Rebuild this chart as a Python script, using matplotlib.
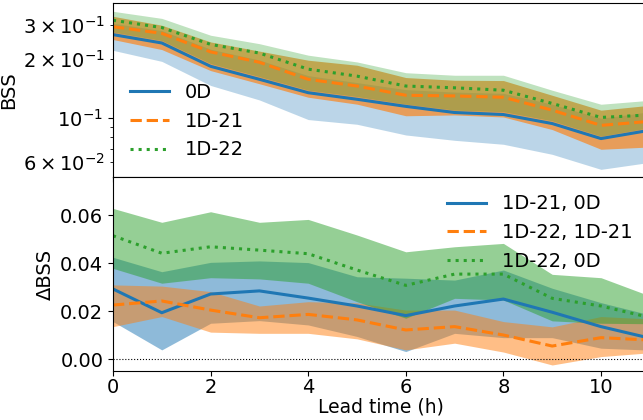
import matplotlib
matplotlib.use("Agg")
import matplotlib.pyplot as plt
import numpy as np

hours = [0, 1, 2, 3, 4, 5, 6, 7, 8, 9, 10, 11]

# ---- top panel: BSS ----
bss_0d = [0.267, 0.242, 0.184, 0.158, 0.135, 0.125, 0.115, 0.107, 0.1045, 0.094, 0.0788, 0.0869]
bss_0d_hi = [0.305, 0.280, 0.225, 0.198, 0.165, 0.152, 0.140, 0.136, 0.134, 0.118, 0.100, 0.108]
bss_0d_lo = [0.222, 0.195, 0.147, 0.124, 0.0985, 0.0932, 0.0822, 0.0772, 0.0737, 0.0655, 0.0549, 0.0596]

bss_21 = [0.293, 0.271, 0.218, 0.193, 0.158, 0.146, 0.131, 0.130, 0.128, 0.110, 0.092, 0.0965]
bss_21_hi = [0.331, 0.298, 0.245, 0.220, 0.1977, 0.1864, 0.1613, 0.1563, 0.1557, 0.131, 0.110, 0.1165]
bss_21_lo = [0.252, 0.224, 0.175, 0.150, 0.128, 0.118, 0.103, 0.104, 0.1015, 0.0876, 0.0695, 0.0714]

bss_22 = [0.316, 0.290, 0.238, 0.215, 0.178, 0.164, 0.146, 0.143, 0.139, 0.119, 0.101, 0.104]
bss_22_hi = [0.351, 0.323, 0.265, 0.240, 0.2097, 0.1937, 0.1707, 0.1657, 0.1657, 0.139, 0.1179, 0.1235]
bss_22_lo = [0.275, 0.249, 0.190, 0.163, 0.139, 0.129, 0.118, 0.110, 0.108, 0.097, 0.081, 0.0895]

# ---- bottom panel: delta BSS ----
d21_0 = [0.0293, 0.0194, 0.0272, 0.0285, 0.0255, 0.0222, 0.0182, 0.0222, 0.0251, 0.0196, 0.0136, 0.0088]
d21_0_hi = [0.0425, 0.0365, 0.0404, 0.0410, 0.0403, 0.0344, 0.0338, 0.0330, 0.0372, 0.0296, 0.0236, 0.0185]
d21_0_lo = [0.0157, 0.0039, 0.0150, 0.0161, 0.0143, 0.0095, 0.0032, 0.0108, 0.0090, 0.0090, 0.0046, 0.0038]

d22_21 = [0.0226, 0.0243, 0.0205, 0.0173, 0.0187, 0.0164, 0.0122, 0.0136, 0.0101, 0.0055, 0.0090, 0.0080]
d22_21_hi = [0.0310, 0.0305, 0.0282, 0.0222, 0.0240, 0.0235, 0.0205, 0.0205, 0.0157, 0.0135, 0.0178, 0.0168]
d22_21_lo = [0.0136, 0.0178, 0.0113, 0.0108, 0.0108, 0.0085, 0.0039, 0.0067, 0.0030, -0.0024, 0.0011, 0.0027]

d22_0 = [0.0515, 0.0442, 0.0469, 0.0455, 0.0440, 0.0372, 0.0308, 0.0355, 0.0355, 0.0254, 0.0222, 0.0174]
d22_0_hi = [0.0629, 0.0571, 0.0615, 0.0571, 0.0583, 0.0518, 0.0448, 0.0469, 0.0483, 0.0354, 0.0340, 0.0264]
d22_0_lo = [0.0379, 0.0317, 0.0340, 0.0335, 0.0317, 0.0240, 0.0171, 0.0254, 0.0247, 0.0160, 0.0150, 0.0148]

top_labels = ["0D", "1D-21", "1D-22"]
bot_labels = ["1D-21, 0D", "1D-22, 1D-21", "1D-22, 0D"]

C0, C1, C2 = "#1f77b4", "#ff7f0e", "#2ca02c"
FS = 14
LW = 2.2

fig = plt.figure(figsize=(6.43, 4.20), dpi=100)
left = 113 / 643
width = (649.8 - 113) / 643
ax1 = fig.add_axes([left, 0.5786, width, 0.4143])
ax2 = fig.add_axes([left, 0.1167, width, 0.4619], sharex=ax1)

# top
ax1.fill_between(hours, bss_0d_lo, bss_0d_hi, color=C0, alpha=0.3, lw=0)
ax1.fill_between(hours, bss_21_lo, bss_21_hi, color=C1, alpha=0.65, lw=0)
ax1.fill_between(hours, bss_22_lo, bss_22_hi, color=C2, alpha=0.3, lw=0)
ax1.plot(hours, bss_0d, color=C0, lw=LW, ls="-", label=top_labels[0])
ax1.plot(hours, bss_21, color=C1, lw=LW, ls="--", label=top_labels[1])
ax1.plot(hours, bss_22, color=C2, lw=LW, ls=":", label=top_labels[2])
ax1.set_yscale("log")
ax1.set_ylim(0.0502, 0.387)
ax1.set_ylabel("BSS", fontsize=FS)
ax1.legend(loc="lower left", frameon=False, fontsize=FS)
ax1.tick_params(labelsize=FS, labelbottom=False)
ax1.tick_params(which="minor", labelsize=FS)

# bottom
ax2.fill_between(hours, d21_0_lo, d21_0_hi, color=C0, alpha=0.5, lw=0)
ax2.fill_between(hours, d22_21_lo, d22_21_hi, color=C1, alpha=0.5, lw=0)
ax2.fill_between(hours, d22_0_lo, d22_0_hi, color=C2, alpha=0.5, lw=0)
ax2.plot(hours, d21_0, color=C0, lw=LW, ls="-", label=bot_labels[0])
ax2.plot(hours, d22_21, color=C1, lw=LW, ls="--", label=bot_labels[1])
ax2.plot(hours, d22_0, color=C2, lw=LW, ls=":", label=bot_labels[2])
ax2.axhline(0, color="k", lw=0.8, ls=":")
ax2.set_ylim(-0.0049, 0.076)
ax2.set_yticks([0.0, 0.02, 0.04, 0.06])
ax2.set_xlim(0, 11)
ax2.set_xticks([0, 2, 4, 6, 8, 10])
ax2.set_ylabel("\u0394BSS", fontsize=FS)
ax2.set_xlabel("Lead time (h)", fontsize=13.5, labelpad=0.5)
ax2.legend(loc="upper right", frameon=False, fontsize=FS)
ax2.tick_params(axis="x", labelsize=FS, pad=1.5)
ax2.tick_params(axis="y", labelsize=FS)

fig.savefig("out.png", dpi=100)
